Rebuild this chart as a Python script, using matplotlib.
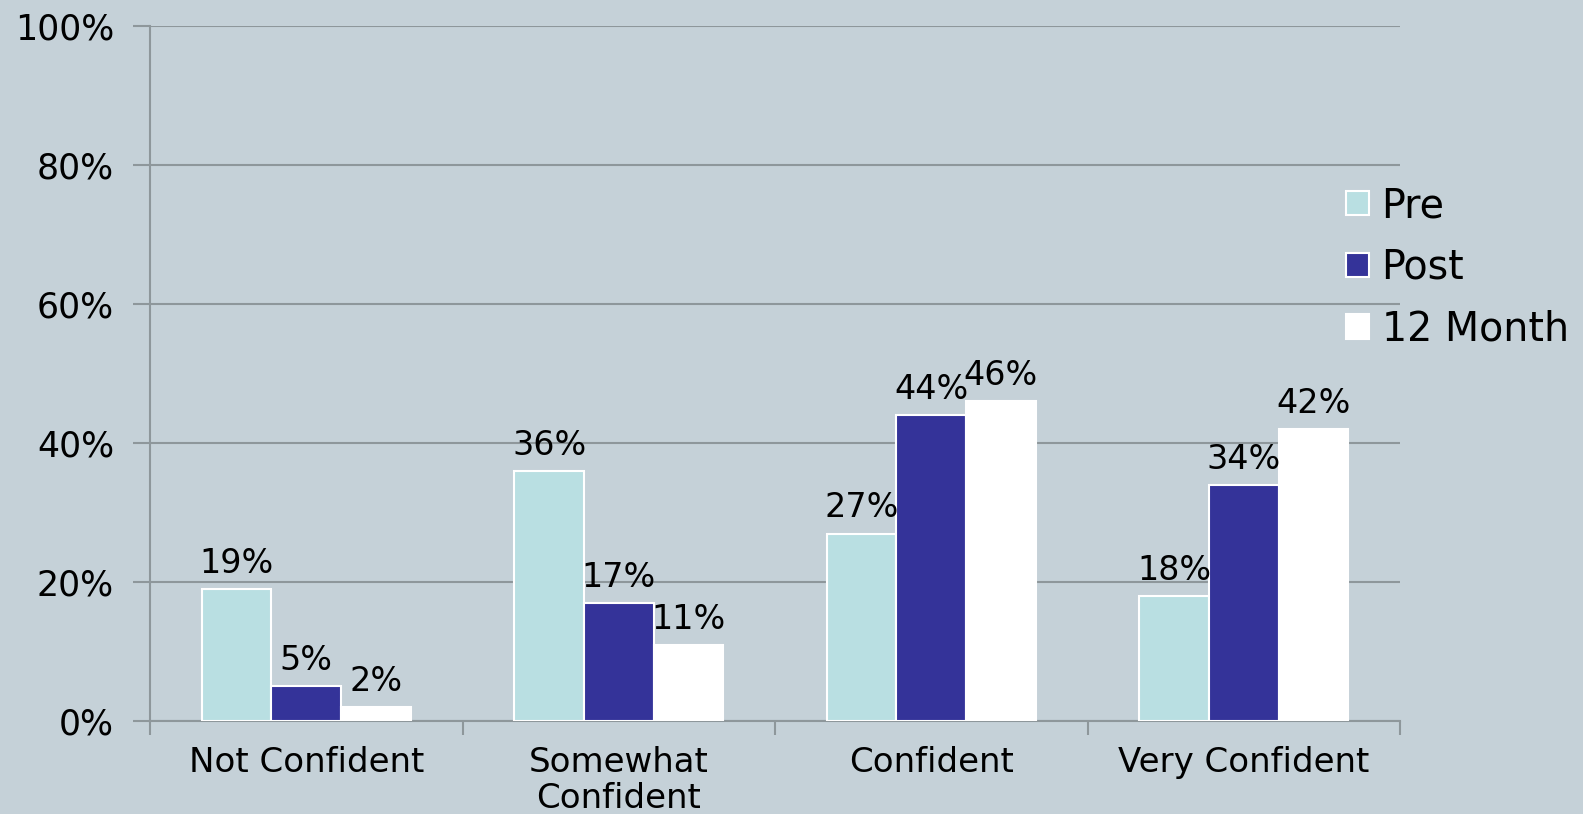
import numpy as np
import matplotlib.pyplot as plt

plt.rcParams.update({
    'font.family': ['DejaVu Sans'],
    'font.size': 24,
})

categories = ['Not Confident', 'Somewhat\nConfident', 'Confident', 'Very Confident']
series_names = ['Pre', 'Post', '12 Month']
pre = [19, 36, 27, 18]
post = [5, 17, 44, 34]
month12 = [2, 11, 46, 42]
y_ticks = [0, 20, 40, 60, 80, 100]

bg = '#c5d1d8'
grid_c = '#8e979b'
colors = ['#b9dfe2', '#343399', '#ffffff']

fig = plt.figure(figsize=(15.83, 8.14), dpi=100, facecolor=bg)
ax = fig.add_axes([0.0948, 0.114, 0.7896, 0.854])
ax.set_facecolor(bg)

x = np.arange(len(categories))
w = 0.223
for i, (vals, c, name) in enumerate(zip([pre, post, month12], colors, series_names)):
    pos = x + (i - 1) * w
    ax.bar(pos, vals, width=w, color=c, edgecolor='white', linewidth=1.5,
           label=name, zorder=3)
    for px, v in zip(pos, vals):
        ax.text(px, v + 1.3, f'{v}%', ha='center', va='bottom',
                fontsize=24, color='black', zorder=4)

ax.set_xlim(-0.5, len(categories) - 0.5)
ax.set_ylim(0, 100)
ax.set_yticks(y_ticks)
ax.set_yticklabels([f'{t}%' for t in y_ticks], fontsize=25)
ax.yaxis.grid(True, color=grid_c, linewidth=1.5, zorder=0)

ax.set_xticks(x)
ax.set_xticklabels(categories, linespacing=1.1, fontsize=24.5)
ax.set_xticks(np.arange(-0.5, len(categories)), minor=True)
ax.tick_params(axis='x', which='major', length=0, pad=18)
ax.tick_params(axis='x', which='minor', length=10, width=1.5, color=grid_c, direction='out')
ax.tick_params(axis='y', length=12, width=1.5, color=grid_c, pad=14)

for s in ['top', 'right']:
    ax.spines[s].set_visible(False)
for s in ['left', 'bottom']:
    ax.spines[s].set_color(grid_c)
    ax.spines[s].set_linewidth(1.5)

leg = ax.legend(loc='center left', bbox_to_anchor=(0.850, 0.671),
                bbox_transform=fig.transFigure, frameon=False,
                fontsize=28.5, handlelength=0.58, handleheight=0.58,
                handletextpad=0.33, labelspacing=0.55,
                borderpad=0, borderaxespad=0)

fig.savefig('out.png', dpi=100, facecolor=bg)
